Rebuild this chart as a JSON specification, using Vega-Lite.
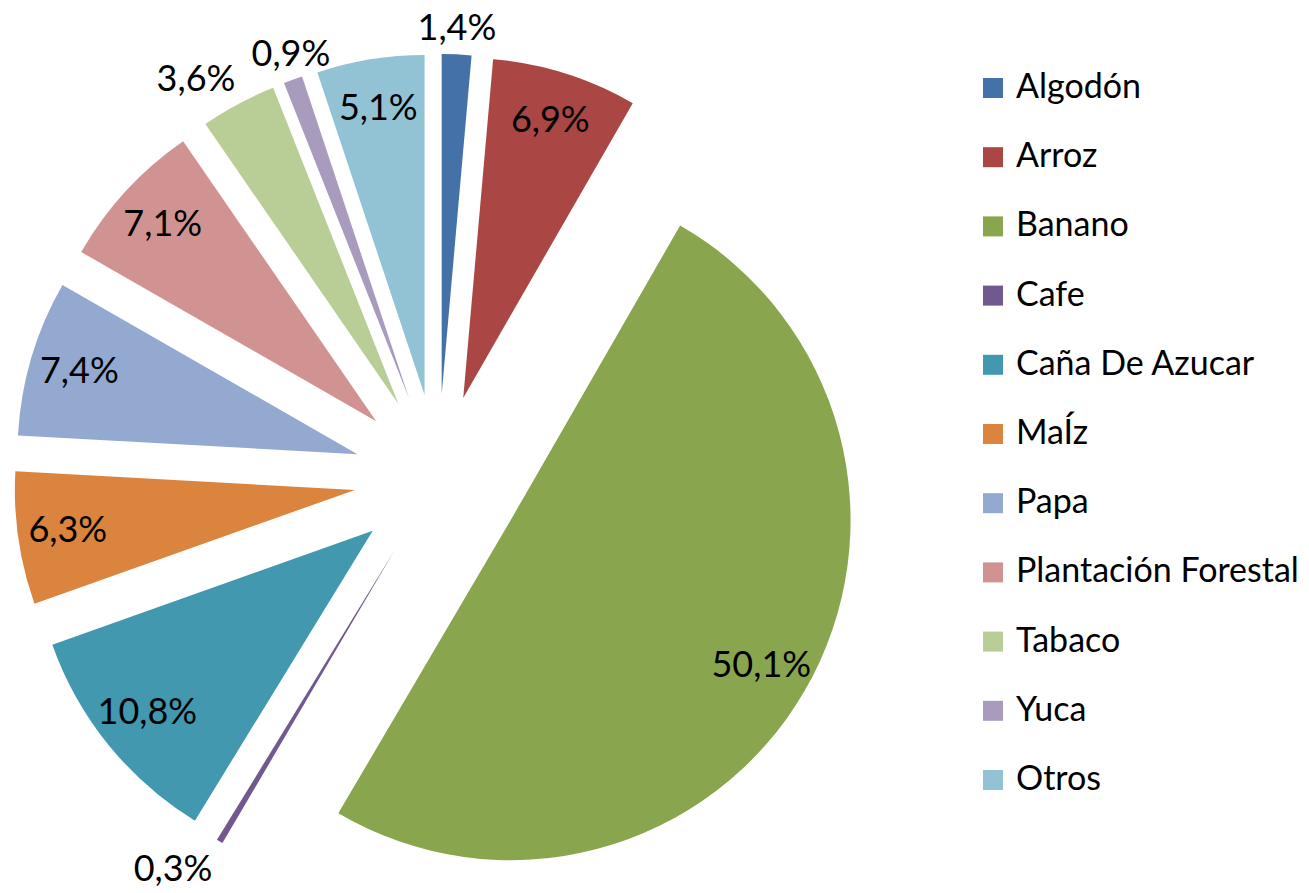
{
  "$schema": "https://vega.github.io/schema/vega-lite/v6.json",
  "width": 680,
  "height": 680,
  "autosize": {"type": "none"},
  "padding": {"left": 98, "top": 138, "right": 531, "bottom": 75},
  "background": "white",
  "config": {
    "view": {"stroke": null},
    "locale": {"number": {"decimal": ",", "thousands": ".", "grouping": [3], "currency": ["", " €"]}},
    "font": "Lato"
  },
  "data": {
    "values": [
      {"order": 1, "cultivo": "Algodón", "p": 0.014},
      {"order": 2, "cultivo": "Arroz", "p": 0.069},
      {"order": 3, "cultivo": "Banano", "p": 0.501},
      {"order": 4, "cultivo": "Cafe", "p": 0.003},
      {"order": 5, "cultivo": "Caña De Azucar", "p": 0.108},
      {"order": 6, "cultivo": "MaÍz", "p": 0.063},
      {"order": 7, "cultivo": "Papa", "p": 0.074},
      {"order": 8, "cultivo": "Plantación Forestal", "p": 0.071},
      {"order": 9, "cultivo": "Tabaco", "p": 0.036},
      {"order": 10, "cultivo": "Yuca", "p": 0.009},
      {"order": 11, "cultivo": "Otros", "p": 0.051}
    ]
  },
  "encoding": {
    "theta": {"field": "p", "type": "quantitative", "stack": true},
    "order": {"field": "order", "type": "quantitative"},
    "color": {
      "field": "cultivo",
      "type": "nominal",
      "sort": ["Algodón", "Arroz", "Banano", "Cafe", "Caña De Azucar", "MaÍz", "Papa", "Plantación Forestal", "Tabaco", "Yuca", "Otros"],
      "scale": {
        "domain": ["Algodón", "Arroz", "Banano", "Cafe", "Caña De Azucar", "MaÍz", "Papa", "Plantación Forestal", "Tabaco", "Yuca", "Otros"],
        "range": ["#4472A8", "#AA4644", "#89A54E", "#71588F", "#4198AF", "#DB843D", "#93A9D0", "#D19392", "#B9CD96", "#A99BBD", "#92C3D4"]
      },
      "legend": {
        "title": null,
        "orient": "none",
        "legendX": 878,
        "legendY": -67,
        "symbolType": "square",
        "symbolSize": 400,
        "symbolStrokeWidth": 0,
        "labelFontSize": 34,
        "labelFont": "Lato",
        "labelColor": "black",
        "labelOffset": 6,
        "rowPadding": 35.2,
        "padding": 0,
        "labelLimit": 400
      }
    }
  },
  "layer": [
    {
      "mark": {
        "type": "arc",
        "radius": 340,
        "xOffset": {"expr": "84*sin(scale('theta', (datum.p_start + datum.p_end)/2))"},
        "yOffset": {"expr": "-84*cos(scale('theta', (datum.p_start + datum.p_end)/2))"}
      }
    },
    {
      "mark": {
        "type": "text",
        "fontSize": 36,
        "font": "Lato",
        "color": "black",
        "radius": {"expr": "datum.p < 0.04 ? (cos(scale('theta', (datum.p_start + datum.p_end)/2)) > 0 ? 430 : 438) : 374"},
        "align": {"expr": "datum.p >= 0.04 ? 'center' : (sin(scale('theta', (datum.p_start + datum.p_end)/2)) < -0.4 ? 'right' : (sin(scale('theta', (datum.p_start + datum.p_end)/2)) > 0.4 ? 'left' : 'center'))"},
        "baseline": {"expr": "datum.p >= 0.04 ? 'middle' : (cos(scale('theta', (datum.p_start + datum.p_end)/2)) > 0 ? 'bottom' : 'top')"}
      },
      "encoding": {
        "text": {"field": "p", "type": "quantitative", "format": ".1%"},
        "color": {"value": "black"}
      }
    }
  ]
}
